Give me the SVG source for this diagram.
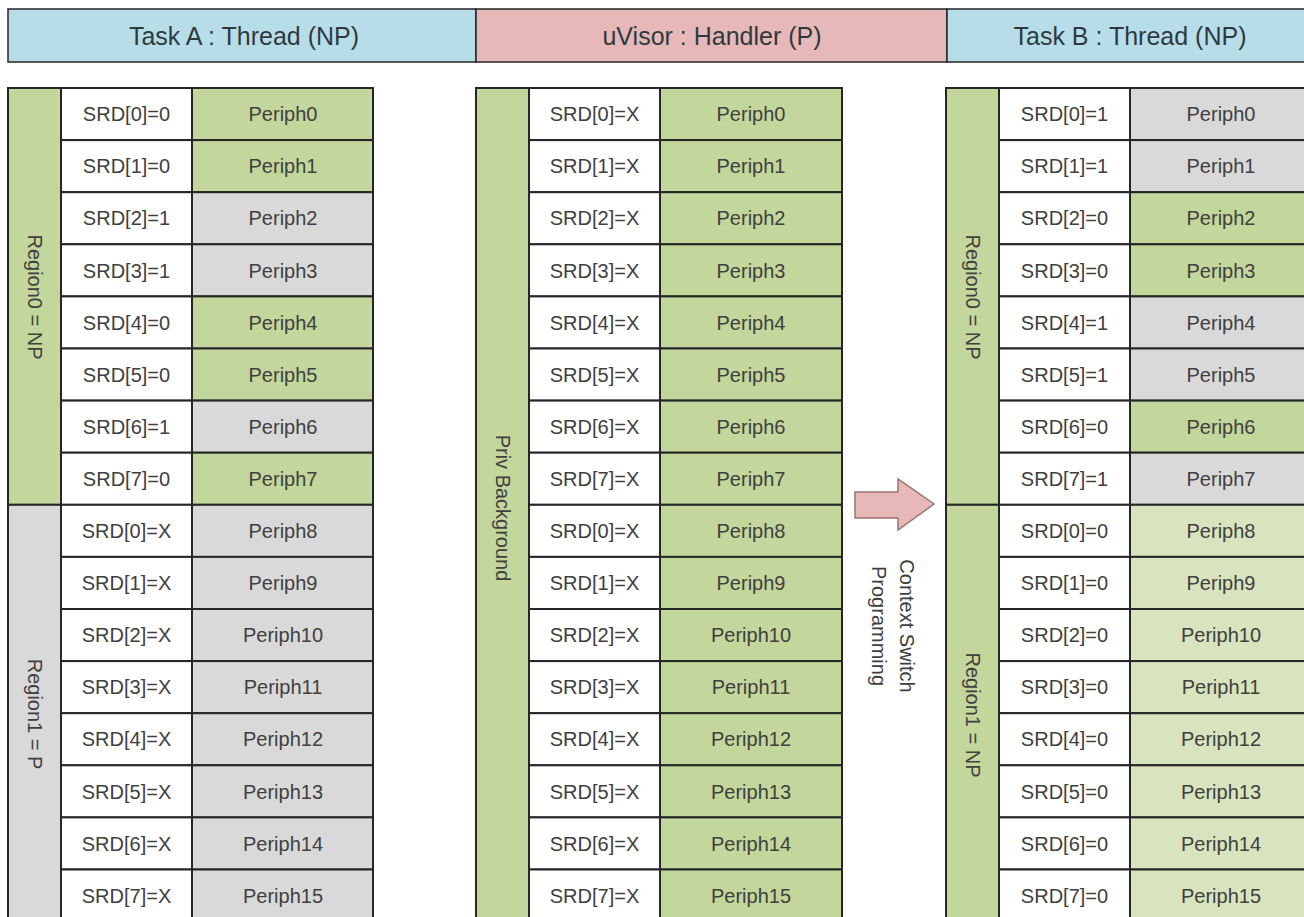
<svg xmlns="http://www.w3.org/2000/svg" width="1304" height="917" viewBox="0 0 1304 917">
<style>
.b{stroke:#262626;stroke-width:2}
.hb{stroke:#262626;stroke-width:1.5}
.g{fill:#c3d69b}.y{fill:#d9d9d9}.w{fill:#ffffff}.l{fill:#d7e4bd}
.blue{fill:#b7dee8}.pink{fill:#e6b9b8}
.h{font-family:"Liberation Sans",Arial,sans-serif;font-size:25px;fill:#2f3a3f;text-anchor:middle}
.t{font-family:"Liberation Sans",Arial,sans-serif;font-size:20px;fill:#404040;text-anchor:middle}
.v{font-family:"Liberation Sans",Arial,sans-serif;font-size:20px;fill:#404040;text-anchor:middle}
</style>
<rect width="1304" height="917" fill="#ffffff"/>

<g id="header-taskA">
<rect class="blue hb" x="8" y="9" width="468" height="53"/>
<text class="h" x="244" y="44.5">Task A : Thread (NP)</text>
</g>
<g id="header-uvisor">
<rect class="pink hb" x="476" y="9" width="471" height="53"/>
<text class="h" x="712" y="44.5">uVisor : Handler (P)</text>
</g>
<g id="header-taskB">
<rect class="blue hb" x="947" y="9" width="366" height="53"/>
<text class="h" x="1130" y="44.5">Task B : Thread (NP)</text>
</g>

<g id="table-taskA" transform="translate(8,0)">
<rect class="g b" x="0" y="88" width="53" height="416.8"/>
<rect class="y b" x="0" y="504.8" width="53" height="416.8"/>
<text class="v" transform="translate(26.5,297) rotate(90)" y="7">Region0 = NP</text>
<text class="v" transform="translate(26.5,714) rotate(90)" y="7">Region1 = P</text>
<rect class="w b" x="53" y="88" width="131" height="52.1"/><rect class="g b" x="184" y="88" width="181" height="52.1"/>
<text class="t" x="118.5" y="121.2">SRD[0]=0</text><text class="t" x="275" y="121.2">Periph0</text>
<rect class="w b" x="53" y="140.1" width="131" height="52.1"/><rect class="g b" x="184" y="140.1" width="181" height="52.1"/>
<text class="t" x="118.5" y="173.3">SRD[1]=0</text><text class="t" x="275" y="173.3">Periph1</text>
<rect class="w b" x="53" y="192.2" width="131" height="52.1"/><rect class="y b" x="184" y="192.2" width="181" height="52.1"/>
<text class="t" x="118.5" y="225.4">SRD[2]=1</text><text class="t" x="275" y="225.4">Periph2</text>
<rect class="w b" x="53" y="244.3" width="131" height="52.1"/><rect class="y b" x="184" y="244.3" width="181" height="52.1"/>
<text class="t" x="118.5" y="277.5">SRD[3]=1</text><text class="t" x="275" y="277.5">Periph3</text>
<rect class="w b" x="53" y="296.4" width="131" height="52.1"/><rect class="g b" x="184" y="296.4" width="181" height="52.1"/>
<text class="t" x="118.5" y="329.6">SRD[4]=0</text><text class="t" x="275" y="329.6">Periph4</text>
<rect class="w b" x="53" y="348.5" width="131" height="52.1"/><rect class="g b" x="184" y="348.5" width="181" height="52.1"/>
<text class="t" x="118.5" y="381.7">SRD[5]=0</text><text class="t" x="275" y="381.7">Periph5</text>
<rect class="w b" x="53" y="400.6" width="131" height="52.1"/><rect class="y b" x="184" y="400.6" width="181" height="52.1"/>
<text class="t" x="118.5" y="433.8">SRD[6]=1</text><text class="t" x="275" y="433.8">Periph6</text>
<rect class="w b" x="53" y="452.7" width="131" height="52.1"/><rect class="g b" x="184" y="452.7" width="181" height="52.1"/>
<text class="t" x="118.5" y="485.9">SRD[7]=0</text><text class="t" x="275" y="485.9">Periph7</text>
<rect class="w b" x="53" y="504.8" width="131" height="52.1"/><rect class="y b" x="184" y="504.8" width="181" height="52.1"/>
<text class="t" x="118.5" y="538">SRD[0]=X</text><text class="t" x="275" y="538">Periph8</text>
<rect class="w b" x="53" y="556.9" width="131" height="52.1"/><rect class="y b" x="184" y="556.9" width="181" height="52.1"/>
<text class="t" x="118.5" y="590.1">SRD[1]=X</text><text class="t" x="275" y="590.1">Periph9</text>
<rect class="w b" x="53" y="609" width="131" height="52.1"/><rect class="y b" x="184" y="609" width="181" height="52.1"/>
<text class="t" x="118.5" y="642.2">SRD[2]=X</text><text class="t" x="275" y="642.2">Periph10</text>
<rect class="w b" x="53" y="661.1" width="131" height="52.1"/><rect class="y b" x="184" y="661.1" width="181" height="52.1"/>
<text class="t" x="118.5" y="694.3">SRD[3]=X</text><text class="t" x="275" y="694.3">Periph11</text>
<rect class="w b" x="53" y="713.2" width="131" height="52.1"/><rect class="y b" x="184" y="713.2" width="181" height="52.1"/>
<text class="t" x="118.5" y="746.4">SRD[4]=X</text><text class="t" x="275" y="746.4">Periph12</text>
<rect class="w b" x="53" y="765.3" width="131" height="52.1"/><rect class="y b" x="184" y="765.3" width="181" height="52.1"/>
<text class="t" x="118.5" y="798.5">SRD[5]=X</text><text class="t" x="275" y="798.5">Periph13</text>
<rect class="w b" x="53" y="817.4" width="131" height="52.1"/><rect class="y b" x="184" y="817.4" width="181" height="52.1"/>
<text class="t" x="118.5" y="850.6">SRD[6]=X</text><text class="t" x="275" y="850.6">Periph14</text>
<rect class="w b" x="53" y="869.5" width="131" height="52.1"/><rect class="y b" x="184" y="869.5" width="181" height="52.1"/>
<text class="t" x="118.5" y="902.7">SRD[7]=X</text><text class="t" x="275" y="902.7">Periph15</text>
</g>

<g id="table-uvisor" transform="translate(476,0)">
<rect class="g b" x="0" y="88" width="53" height="833.6"/>
<text class="v" transform="translate(27,508) rotate(90)" y="7">Priv Background</text>
<rect class="w b" x="53" y="88" width="131" height="52.1"/><rect class="g b" x="184" y="88" width="182" height="52.1"/>
<text class="t" x="118.5" y="121.2">SRD[0]=X</text><text class="t" x="275" y="121.2">Periph0</text>
<rect class="w b" x="53" y="140.1" width="131" height="52.1"/><rect class="g b" x="184" y="140.1" width="182" height="52.1"/>
<text class="t" x="118.5" y="173.3">SRD[1]=X</text><text class="t" x="275" y="173.3">Periph1</text>
<rect class="w b" x="53" y="192.2" width="131" height="52.1"/><rect class="g b" x="184" y="192.2" width="182" height="52.1"/>
<text class="t" x="118.5" y="225.4">SRD[2]=X</text><text class="t" x="275" y="225.4">Periph2</text>
<rect class="w b" x="53" y="244.3" width="131" height="52.1"/><rect class="g b" x="184" y="244.3" width="182" height="52.1"/>
<text class="t" x="118.5" y="277.5">SRD[3]=X</text><text class="t" x="275" y="277.5">Periph3</text>
<rect class="w b" x="53" y="296.4" width="131" height="52.1"/><rect class="g b" x="184" y="296.4" width="182" height="52.1"/>
<text class="t" x="118.5" y="329.6">SRD[4]=X</text><text class="t" x="275" y="329.6">Periph4</text>
<rect class="w b" x="53" y="348.5" width="131" height="52.1"/><rect class="g b" x="184" y="348.5" width="182" height="52.1"/>
<text class="t" x="118.5" y="381.7">SRD[5]=X</text><text class="t" x="275" y="381.7">Periph5</text>
<rect class="w b" x="53" y="400.6" width="131" height="52.1"/><rect class="g b" x="184" y="400.6" width="182" height="52.1"/>
<text class="t" x="118.5" y="433.8">SRD[6]=X</text><text class="t" x="275" y="433.8">Periph6</text>
<rect class="w b" x="53" y="452.7" width="131" height="52.1"/><rect class="g b" x="184" y="452.7" width="182" height="52.1"/>
<text class="t" x="118.5" y="485.9">SRD[7]=X</text><text class="t" x="275" y="485.9">Periph7</text>
<rect class="w b" x="53" y="504.8" width="131" height="52.1"/><rect class="g b" x="184" y="504.8" width="182" height="52.1"/>
<text class="t" x="118.5" y="538">SRD[0]=X</text><text class="t" x="275" y="538">Periph8</text>
<rect class="w b" x="53" y="556.9" width="131" height="52.1"/><rect class="g b" x="184" y="556.9" width="182" height="52.1"/>
<text class="t" x="118.5" y="590.1">SRD[1]=X</text><text class="t" x="275" y="590.1">Periph9</text>
<rect class="w b" x="53" y="609" width="131" height="52.1"/><rect class="g b" x="184" y="609" width="182" height="52.1"/>
<text class="t" x="118.5" y="642.2">SRD[2]=X</text><text class="t" x="275" y="642.2">Periph10</text>
<rect class="w b" x="53" y="661.1" width="131" height="52.1"/><rect class="g b" x="184" y="661.1" width="182" height="52.1"/>
<text class="t" x="118.5" y="694.3">SRD[3]=X</text><text class="t" x="275" y="694.3">Periph11</text>
<rect class="w b" x="53" y="713.2" width="131" height="52.1"/><rect class="g b" x="184" y="713.2" width="182" height="52.1"/>
<text class="t" x="118.5" y="746.4">SRD[4]=X</text><text class="t" x="275" y="746.4">Periph12</text>
<rect class="w b" x="53" y="765.3" width="131" height="52.1"/><rect class="g b" x="184" y="765.3" width="182" height="52.1"/>
<text class="t" x="118.5" y="798.5">SRD[5]=X</text><text class="t" x="275" y="798.5">Periph13</text>
<rect class="w b" x="53" y="817.4" width="131" height="52.1"/><rect class="g b" x="184" y="817.4" width="182" height="52.1"/>
<text class="t" x="118.5" y="850.6">SRD[6]=X</text><text class="t" x="275" y="850.6">Periph14</text>
<rect class="w b" x="53" y="869.5" width="131" height="52.1"/><rect class="g b" x="184" y="869.5" width="182" height="52.1"/>
<text class="t" x="118.5" y="902.7">SRD[7]=X</text><text class="t" x="275" y="902.7">Periph15</text>
</g>

<g id="table-taskB" transform="translate(946,0)">
<rect class="g b" x="0" y="88" width="53" height="416.8"/>
<rect class="g b" x="0" y="504.8" width="53" height="416.8"/>
<text class="v" transform="translate(26.5,297) rotate(90)" y="7">Region0 = NP</text>
<text class="v" transform="translate(26.5,715) rotate(90)" y="7">Region1 = NP</text>
<rect class="w b" x="53" y="88" width="131" height="52.1"/><rect class="y b" x="184" y="88" width="182" height="52.1"/>
<text class="t" x="118.5" y="121.2">SRD[0]=1</text><text class="t" x="275" y="121.2">Periph0</text>
<rect class="w b" x="53" y="140.1" width="131" height="52.1"/><rect class="y b" x="184" y="140.1" width="182" height="52.1"/>
<text class="t" x="118.5" y="173.3">SRD[1]=1</text><text class="t" x="275" y="173.3">Periph1</text>
<rect class="w b" x="53" y="192.2" width="131" height="52.1"/><rect class="g b" x="184" y="192.2" width="182" height="52.1"/>
<text class="t" x="118.5" y="225.4">SRD[2]=0</text><text class="t" x="275" y="225.4">Periph2</text>
<rect class="w b" x="53" y="244.3" width="131" height="52.1"/><rect class="g b" x="184" y="244.3" width="182" height="52.1"/>
<text class="t" x="118.5" y="277.5">SRD[3]=0</text><text class="t" x="275" y="277.5">Periph3</text>
<rect class="w b" x="53" y="296.4" width="131" height="52.1"/><rect class="y b" x="184" y="296.4" width="182" height="52.1"/>
<text class="t" x="118.5" y="329.6">SRD[4]=1</text><text class="t" x="275" y="329.6">Periph4</text>
<rect class="w b" x="53" y="348.5" width="131" height="52.1"/><rect class="y b" x="184" y="348.5" width="182" height="52.1"/>
<text class="t" x="118.5" y="381.7">SRD[5]=1</text><text class="t" x="275" y="381.7">Periph5</text>
<rect class="w b" x="53" y="400.6" width="131" height="52.1"/><rect class="g b" x="184" y="400.6" width="182" height="52.1"/>
<text class="t" x="118.5" y="433.8">SRD[6]=0</text><text class="t" x="275" y="433.8">Periph6</text>
<rect class="w b" x="53" y="452.7" width="131" height="52.1"/><rect class="y b" x="184" y="452.7" width="182" height="52.1"/>
<text class="t" x="118.5" y="485.9">SRD[7]=1</text><text class="t" x="275" y="485.9">Periph7</text>
<rect class="w b" x="53" y="504.8" width="131" height="52.1"/><rect class="l b" x="184" y="504.8" width="182" height="52.1"/>
<text class="t" x="118.5" y="538">SRD[0]=0</text><text class="t" x="275" y="538">Periph8</text>
<rect class="w b" x="53" y="556.9" width="131" height="52.1"/><rect class="l b" x="184" y="556.9" width="182" height="52.1"/>
<text class="t" x="118.5" y="590.1">SRD[1]=0</text><text class="t" x="275" y="590.1">Periph9</text>
<rect class="w b" x="53" y="609" width="131" height="52.1"/><rect class="l b" x="184" y="609" width="182" height="52.1"/>
<text class="t" x="118.5" y="642.2">SRD[2]=0</text><text class="t" x="275" y="642.2">Periph10</text>
<rect class="w b" x="53" y="661.1" width="131" height="52.1"/><rect class="l b" x="184" y="661.1" width="182" height="52.1"/>
<text class="t" x="118.5" y="694.3">SRD[3]=0</text><text class="t" x="275" y="694.3">Periph11</text>
<rect class="w b" x="53" y="713.2" width="131" height="52.1"/><rect class="l b" x="184" y="713.2" width="182" height="52.1"/>
<text class="t" x="118.5" y="746.4">SRD[4]=0</text><text class="t" x="275" y="746.4">Periph12</text>
<rect class="w b" x="53" y="765.3" width="131" height="52.1"/><rect class="l b" x="184" y="765.3" width="182" height="52.1"/>
<text class="t" x="118.5" y="798.5">SRD[5]=0</text><text class="t" x="275" y="798.5">Periph13</text>
<rect class="w b" x="53" y="817.4" width="131" height="52.1"/><rect class="l b" x="184" y="817.4" width="182" height="52.1"/>
<text class="t" x="118.5" y="850.6">SRD[6]=0</text><text class="t" x="275" y="850.6">Periph14</text>
<rect class="w b" x="53" y="869.5" width="131" height="52.1"/><rect class="l b" x="184" y="869.5" width="182" height="52.1"/>
<text class="t" x="118.5" y="902.7">SRD[7]=0</text><text class="t" x="275" y="902.7">Periph15</text>
</g>

<g id="connectors">
<polygon points="855,492 898,492 898,479 934,504 898,530 898,518 855,518" fill="#e6b9b8" stroke="#9a7372" stroke-width="1.5" stroke-linejoin="miter"/>
<text class="v" transform="translate(893,626) rotate(90)"><tspan x="0" y="-7">Context Switch</tspan><tspan x="0" y="21">Programming</tspan></text>
</g>
</svg>
